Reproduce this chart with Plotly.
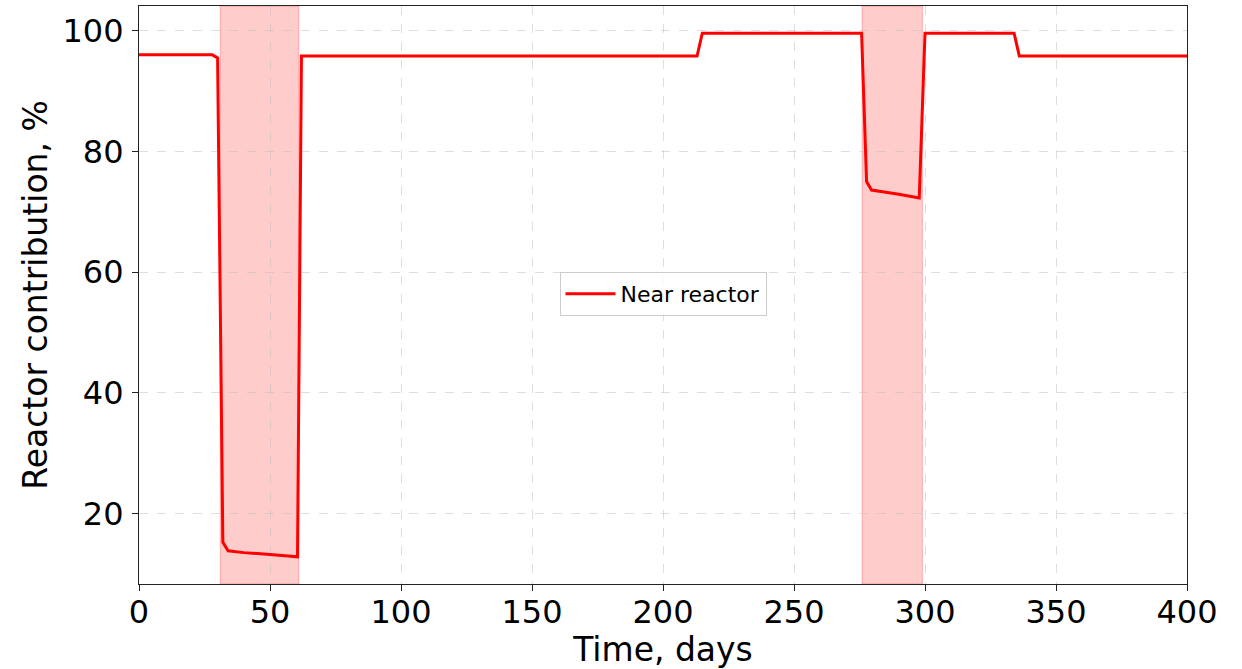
import plotly.graph_objects as go

# Data
days = [0, 28, 30, 32, 34, 40, 50, 60.5, 62, 100, 150, 213, 215, 250, 275.8, 277.7, 279.6, 290, 297.8, 300, 334, 336, 400]
near_reactor = [96.0, 96.0, 95.5, 15.2, 13.8, 13.5, 13.2, 12.8, 95.8, 95.8, 95.8, 95.8, 99.6, 99.6, 99.6, 75.0, 73.6, 72.9, 72.3, 99.6, 99.6, 95.8, 95.8]

shade_start = [31, 276]
shade_end = [61, 299]

x_ticks = [0, 50, 100, 150, 200, 250, 300, 350, 400]
y_ticks = [20, 40, 60, 80, 100]

fig = go.Figure()

for s, e in zip(shade_start, shade_end):
    fig.add_shape(type="rect", xref="x", yref="paper", x0=s, x1=e, y0=0, y1=1,
                  fillcolor="rgba(255,0,0,0.2)", line=dict(color="rgba(255,0,0,0.25)", width=1),
                  layer="below")

fig.add_trace(go.Scatter(x=days, y=near_reactor, mode="lines", name="Near reactor",
                         line=dict(color="red", width=3)))

axis_common = dict(showline=True, linecolor="#222", linewidth=1.2, mirror=True,
                   ticks="outside", ticklen=6, tickwidth=1.2, tickcolor="#222",
                   showgrid=True, gridcolor="rgba(190,190,190,0.5)", griddash="dash", gridwidth=1,
                   zeroline=False, tickfont=dict(size=32, color="black"))

fig.update_xaxes(range=[0, 400], tickvals=x_ticks, **axis_common, ticklabelstandoff=-7,
                 title=dict(text="Time, days", font=dict(size=33, color="black"), standoff=10))
fig.update_yaxes(range=[8.3, 104.1], tickvals=y_ticks, **axis_common, ticklabelstandoff=2,
                 title=dict(text="Reactor contribution, %", font=dict(size=33, color="black"), standoff=4))

fig.update_layout(
    width=1242, height=669,
    margin=dict(l=139, r=55, t=5, b=84),
    plot_bgcolor="white", paper_bgcolor="white",
    font=dict(family="DejaVu Sans", color="black"),
    showlegend=True,
    legend=dict(x=0.5, y=0.502, xanchor="center", yanchor="middle",
                bgcolor="rgba(255,255,255,0.8)", bordercolor="#ccc", borderwidth=1,
                itemwidth=50,
                font=dict(size=22, color="black")),
)

fig.write_html("out.html")
